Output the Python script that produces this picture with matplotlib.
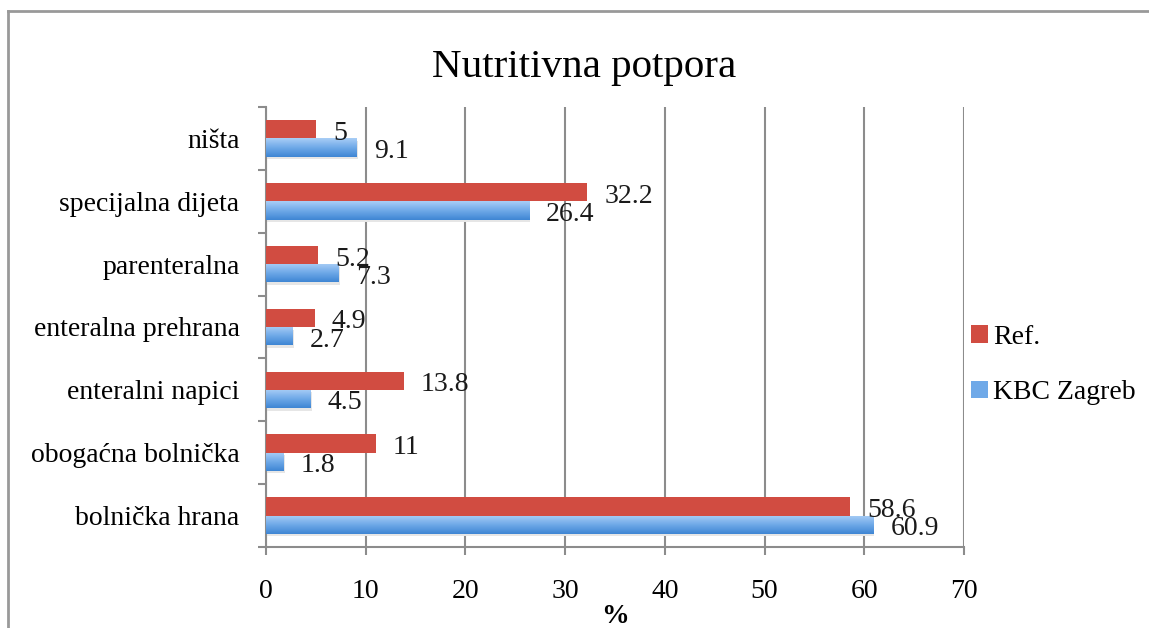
import numpy as np
import matplotlib
matplotlib.use("Agg")
import matplotlib.pyplot as plt
from matplotlib.lines import Line2D
from matplotlib.patches import Patch
import matplotlib.transforms as mtransforms

plt.rcParams['font.family'] = ['Liberation Serif', 'DejaVu Serif']

# kategorije odozgo prema dolje
kategorije = ['ništa', 'specijalna dijeta', 'parenteralna', 'enteralna prehrana',
              'enteralni napici', 'obogaćna bolnička', 'bolnička hrana']
ref = [5, 32.2, 5.2, 4.9, 13.8, 11, 58.6]
kbc = [9.1, 26.4, 7.3, 2.7, 4.5, 1.8, 60.9]
ref_txt = ['5', '32.2', '5.2', '4.9', '13.8', '11', '58.6']
kbc_txt = ['9.1', '26.4', '7.3', '2.7', '4.5', '1.8', '60.9']
x_ticks = [0, 10, 20, 30, 40, 50, 60, 70]

crvena = '#d14c41'
siva = '#8c8c8c'
fs = 20

fig = plt.figure(figsize=(11.49, 6.28), dpi=100)
ax = fig.add_axes([266 / 1149, 1 - 547 / 628, (964 - 266) / 1149, (547 - 107) / 628])

n = len(kategorije)
y = np.arange(n)[::-1].astype(float)
h = 0.29

# blaga sjena ispod plavih traka
ax.barh(y - h / 2 - 0.04, kbc, height=h, left=0.12, color='#e6e6e6', zorder=2, linewidth=0)

ax.barh(y + h / 2, ref, height=h, color=crvena, zorder=3, linewidth=0)
plave = ax.barh(y - h / 2, kbc, height=h, color='#5c9be0', zorder=3, linewidth=0)

# gradijent na plavim trakama
grad = np.linspace(0, 1, 64).reshape(-1, 1)
cmap = matplotlib.colors.LinearSegmentedColormap.from_list('pl', ['#a9cef6', '#6fa9e8', '#3f86d4'])
for b in plave:
    x0, y0 = b.get_x(), b.get_y()
    im = ax.imshow(grad, cmap=cmap, aspect='auto', origin='upper',
                   extent=[x0, x0 + b.get_width(), y0, y0 + b.get_height()], zorder=4)
    im.set_clip_path(b)

# oznake vrijednosti
off = mtransforms.offset_copy(ax.transData, fig=fig, x=17, y=-4, units='dots')
for yi, v, t in zip(y, ref, ref_txt):
    ax.text(v, yi + h / 2, t, transform=off, va='center', ha='left', fontsize=fs, color='#1a1a1a', zorder=5)
for yi, v, t in zip(y, kbc, kbc_txt):
    ax.text(v, yi - h / 2, t, transform=off, va='center', ha='left', fontsize=fs, color='#1a1a1a', zorder=5)

ax.set_xlim(0, 70)
ax.set_ylim(-0.5, n - 0.5)
ax.set_xticks(x_ticks)
ax.set_yticks(y)
ax.set_yticklabels(kategorije)
ax.set_yticks(np.arange(n + 1) - 0.5, minor=True)
ax.tick_params(axis='y', which='major', length=0, pad=19, labelsize=fs)
ax.tick_params(axis='y', which='minor', length=6, color=siva, width=1.5, direction='out')
ax.tick_params(axis='x', length=6, color=siva, width=1.5, direction='out', pad=17, labelsize=fs)
ax.grid(axis='x', color=siva, linewidth=1.5, zorder=0)
ax.set_axisbelow(True)
for s in ('top', 'right'):
    ax.spines[s].set_visible(False)
for s in ('left', 'bottom'):
    ax.spines[s].set_color(siva)
    ax.spines[s].set_linewidth(1.5)
ax.set_xlabel('%', fontsize=fs, fontweight='bold', labelpad=0)

fig.text(0.508, 1 - 68 / 628, 'Nutritivna potpora', ha='center', va='center', fontsize=29.5)

# legenda
rucke = [Patch(facecolor=crvena), Patch(facecolor='#6fa9e8')]
fig.legend(rucke, ['Ref.', 'KBC Zagreb'], loc='center left', bbox_to_anchor=(946 / 1149, 1 - 365 / 628),
           frameon=False, fontsize=fs, handlelength=0.6, handleheight=0.6, handletextpad=0.2,
           labelspacing=1.1)

# okvir grafikona
fig.add_artist(Line2D([8 / 1149, 8 / 1149], [0, 1 - 11 / 628], color='#999999', lw=2))
fig.add_artist(Line2D([8 / 1149, 1], [1 - 11 / 628, 1 - 11 / 628], color='#999999', lw=2))

fig.savefig('out.png', dpi=100)
